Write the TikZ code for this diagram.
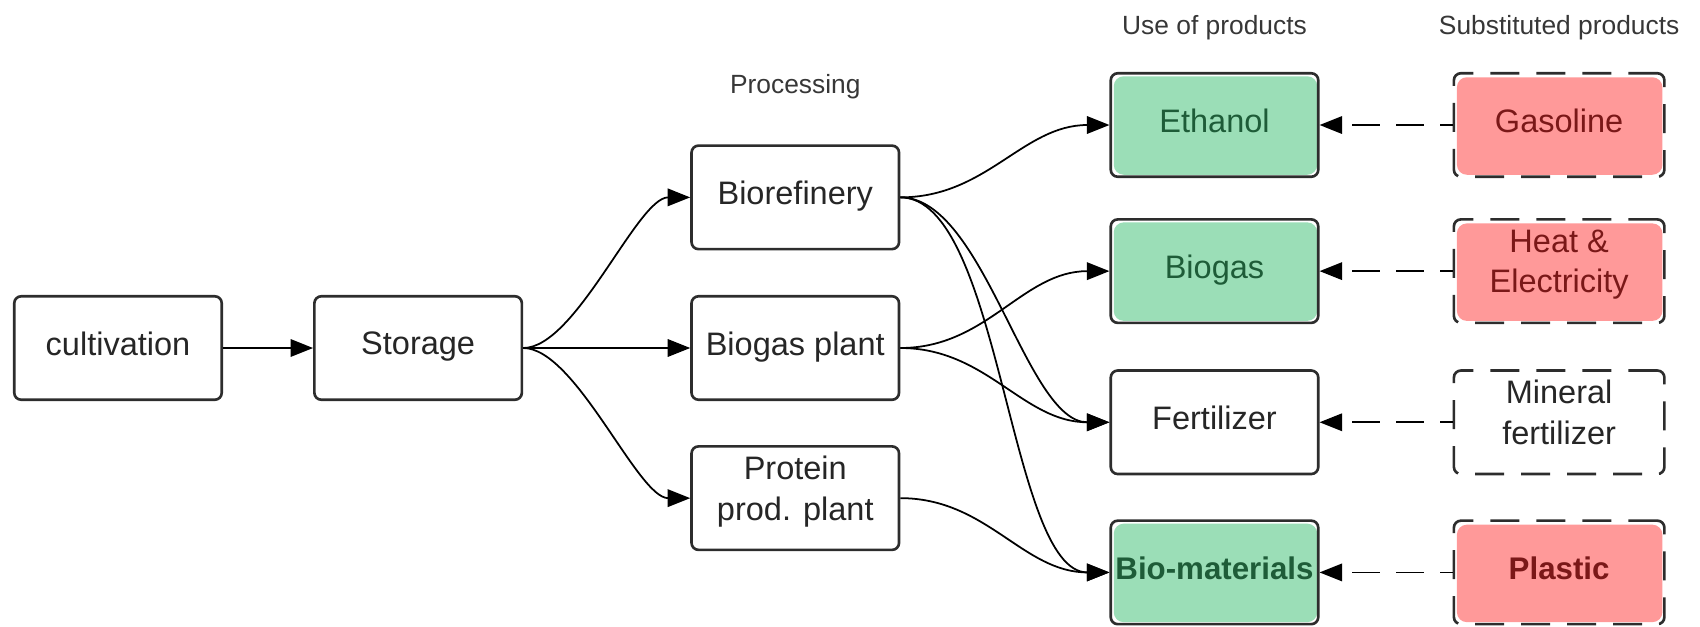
\documentclass[tikz,border=0pt]{standalone}
\usepackage{fontspec}
\setmainfont{Liberation Sans}
\usetikzlibrary{arrows.meta, positioning}
\definecolor{bfgreen}{RGB}{155,222,183}
\definecolor{bfgreentext}{RGB}{30,92,56}
\definecolor{bfred}{RGB}{255,153,153}
\definecolor{bfredtext}{RGB}{122,24,24}
\definecolor{bfline}{RGB}{45,45,45}
\definecolor{bfheadtext}{RGB}{55,55,55}
\tikzset{
  bfarrow/.style={-{Triangle[length=4.5mm, width=3.5mm]}, line width=1pt, black},
  bfdash/.style={bfarrow, dash pattern=on 5.6mm off 3.2mm, dash phase=3mm},
  bfbox/.style={rectangle, draw=bfline, line width=1.5pt, rounded corners=1.4mm, fill=white,
    minimum width=41.5mm, minimum height=20.7mm, inner sep=0.8mm, align=center,
    text=black!85, text depth=5.2pt, font=\fontsize{18.5}{23}\selectfont},
  bftwo/.style={text depth=11.5pt},
  bfuse/.style={bfbox},
  bfgood/.style={bfuse, text=bfgreentext,
    path picture={\fill[bfgreen, rounded corners=2mm]
      ([shift={(0.6mm,-0.6mm)}]path picture bounding box.north west) rectangle
      ([shift={(-0.2mm,0.4mm)}]path picture bounding box.south east);}},
  bfsub/.style={bfuse, minimum width=42.1mm, dash pattern=on 5.8mm off 3.4mm},
  bfbad/.style={bfsub, text=bfredtext,
    path picture={\fill[bfred, rounded corners=2mm]
      ([shift={(0.6mm,-0.8mm)}]path picture bounding box.north west) rectangle
      ([shift={(-0.4mm,0.4mm)}]path picture bounding box.south east);}},
  bfbold/.style={font=\fontsize{17.8}{22}\selectfont\bfseries},
  bfhead/.style={inner sep=0pt, text=bfheadtext, font=\fontsize{15}{18}\selectfont},
}
\begin{document}
\begin{tikzpicture}
  \useasboundingbox (0,0) rectangle (340mm,-125.2mm);

  % Chain from the field to processing.
  \node[bfbox] (cult) at (23.6mm,-69.6mm) {cultivation};
  \node[bfbox, right=18mm of cult] (storage) {Storage};
  \node[bfbox, right=33.4mm of storage] (biogasplant) {Biogas plant};
  \node[bfbox, above=8.9mm of biogasplant] (biorefinery) {Biorefinery};
  \node[bfbox, bftwo, below=8.8mm of biogasplant] (protein) {Protein\\prod. plant};
  \node[bfhead, above=9mm of biorefinery] (hproc) {Processing};

  % Products and what they replace.
  \node[bfgood] (ethanol) at (242.9mm,-25mm) {Ethanol};
  \node[bfgood, below=8mm of ethanol] (biogas) {Biogas};
  \node[bfuse, below=9mm of biogas] (fertilizer) {Fertilizer};
  \node[bfgood, bfbold, below=8.8mm of fertilizer] (biomat) {Bio-materials};
  \node[bfbad, right=26.6mm of ethanol] (gasoline) {Gasoline};
  \node[bfbad, bftwo, right=26.6mm of biogas] (heat) {Heat \&\\Electricity};
  \node[bfsub, bftwo, right=26.6mm of fertilizer] (mineral) {Mineral\\fertilizer};
  \node[bfbad, bfbold, right=26.6mm of biomat] (plastic) {Plastic};
  \node[bfhead, above=6.3mm of ethanol] (huse) {Use of products};
  \node[bfhead, above=6.3mm of gasoline] (hsub) {Substituted products};

  % Edges.
  \path[bfarrow]
    (cult) edge (storage)
    (storage.east) edge[out=0, in=180, looseness=0.6] (biorefinery.west)
    (storage.east) edge (biogasplant.west)
    (storage.east) edge[out=0, in=180, looseness=0.6] (protein.west)
    (biorefinery.east) edge[out=0, in=180] (ethanol.west)
    (biorefinery.east) edge[out=0, in=180, looseness=0.7] (fertilizer.west)
    (biorefinery.east) edge[out=0, in=180, looseness=0.6] (biomat.west)
    (biogasplant.east) edge[out=0, in=180] (biogas.west)
    (biogasplant.east) edge[out=0, in=180] (fertilizer.west)
    (protein.east) edge[out=0, in=180] (biomat.west);

  \path[bfdash]
    (gasoline) edge (ethanol)
    (heat) edge (biogas)
    (mineral) edge (fertilizer)
    (plastic) edge (biomat);
\end{tikzpicture}
\end{document}
